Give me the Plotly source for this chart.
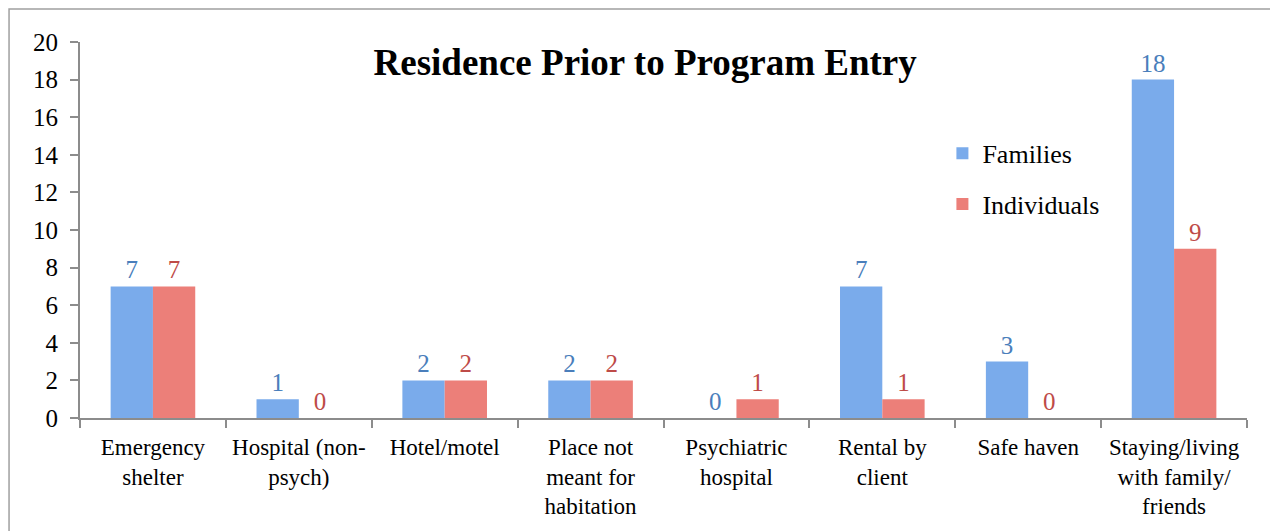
import plotly.graph_objects as go

categories = [
    "Emergency<br>shelter",
    "Hospital (non-<br>psych)",
    "Hotel/motel",
    "Place not<br>meant for<br>habitation",
    "Psychiatric<br>hospital",
    "Rental by<br>client",
    "Safe haven",
    "Staying/living<br>with family/<br>friends",
]
families = [7, 1, 2, 2, 0, 7, 3, 18]
individuals = [7, 0, 2, 2, 1, 1, 0, 9]
y_ticks = list(range(0, 21, 2))

font = "Liberation Serif, Times New Roman, serif"

fig = go.Figure()
fig.add_trace(go.Bar(
    x=categories, y=families, name="Families",
    marker=dict(color="#7aabeb", line=dict(width=0)),
    text=families, textposition="outside",
    textfont=dict(color="#4a7ebb", size=25, family=font),
    cliponaxis=False, legendgroup="f",
))
fig.add_trace(go.Bar(
    x=categories, y=individuals, name="Individuals",
    marker=dict(color="#ec7f79", line=dict(width=0)),
    text=individuals, textposition="outside",
    textfont=dict(color="#be4b48", size=25, family=font),
    cliponaxis=False, legendgroup="i",
))

fig.update_layout(
    width=1270, height=531,
    margin=dict(l=80, r=23, t=42, b=113),
    paper_bgcolor="white", plot_bgcolor="white",
    font=dict(family=font, color="black", size=23),
    barmode="group", bargap=0.42, bargroupgap=0,
    title=dict(
        text="<b>Residence Prior to Program Entry</b>",
        x=0.508, xanchor="center", y=0.883, yanchor="middle",
        font=dict(size=37, family=font, color="black"),
    ),
    legend=dict(
        x=0.739, y=0.636, xanchor="left", yanchor="middle",
        font=dict(size=26, family=font), bgcolor="rgba(0,0,0,0)",
        tracegroupgap=14, itemwidth=30,
    ),
    shapes=[dict(
        type="rect", xref="paper", yref="paper",
        x0=-0.0608, x1=1.03, y0=-0.4, y1=1.0878,
        line=dict(color="#a0a0a0", width=1.5), layer="below",
    )],
)
fig.update_xaxes(
    showline=True, linecolor="#8c8c8c", linewidth=2,
    ticks="outside", tickson="boundaries", ticklen=8, tickcolor="#8c8c8c",
    tickwidth=2, tickfont=dict(size=23, family=font), ticklabelstandoff=7,
    showgrid=False, tickangle=0,
)
fig.update_yaxes(
    range=[0, 20], tickvals=y_ticks,
    showline=True, linecolor="#8c8c8c", linewidth=2,
    ticks="outside", ticklen=8, tickcolor="#8c8c8c", tickwidth=2,
    tickfont=dict(size=25, family=font), ticklabelstandoff=7,
    showgrid=False, zeroline=False,
)

# drop the browser's default body margin so the figure sits at (0, 0)
fig.write_html(
    "out.html",
    config={"displayModeBar": False},
    post_script="document.body.style.margin='0';",
)
